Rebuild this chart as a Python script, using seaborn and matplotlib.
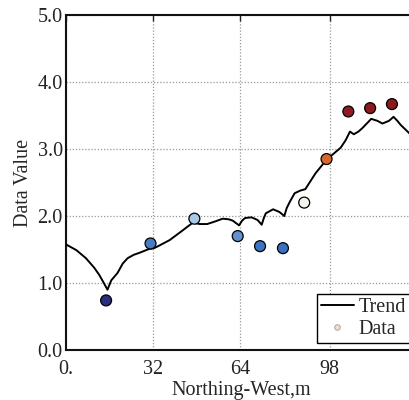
import matplotlib
matplotlib.use("Agg")
import matplotlib.pyplot as plt
import seaborn as sns
import numpy as np
import pandas as pd
from matplotlib.colors import LinearSegmentedColormap, Normalize
from matplotlib.lines import Line2D

# ---- data ----
data_x = [14.9, 31.2, 47.3, 63.2, 71.4, 79.8, 87.6, 95.8, 103.8, 111.8, 119.8]
data_y = [0.74, 1.59, 1.96, 1.70, 1.55, 1.52, 2.20, 2.85, 3.56, 3.61, 3.67]

trend_x = [0, 4, 7.5, 10.5, 12.4, 14.2, 15.4, 16.8, 19.1, 21, 22.8, 25, 27.1, 30.8, 32.5, 34,
           38.2, 42.5, 46.7, 49.3, 52, 55, 57.7, 60, 61.4, 63.7, 64.8, 65.9, 68.3, 70.5, 72,
           72.8, 73.5, 76.2, 78.5, 80.3, 81.2, 82.3, 84.1, 86.2, 88, 91.8, 95.8, 101, 102.8,
           104.4, 105.8, 107.5, 108.9, 110.8, 112.2, 114.5, 116.3, 118.7, 120.4, 121.8, 123, 126.3, 129]
trend_y = [1.58, 1.49, 1.37, 1.23, 1.12, 0.99, 0.90, 1.04, 1.15, 1.29, 1.37, 1.42, 1.45, 1.51, 1.52, 1.55,
           1.64, 1.77, 1.90, 1.88, 1.88, 1.92, 1.96, 1.95, 1.93, 1.86, 1.93, 1.97, 1.98, 1.94, 1.87,
           1.97, 2.04, 2.10, 2.06, 2.00, 2.12, 2.21, 2.34, 2.38, 2.40, 2.64, 2.84, 3.02, 3.13,
           3.26, 3.22, 3.26, 3.31, 3.39, 3.45, 3.42, 3.38, 3.42, 3.48, 3.42, 3.36, 3.23, 3.15]

x_ticks = [0, 32, 64, 96.9]
x_tick_labels = ["0.", "32", "64", "98"]
y_ticks = [0.0, 1.0, 2.0, 3.0, 4.0, 5.0]

df_pts = pd.DataFrame({"x": data_x, "y": data_y})
df_trend = pd.DataFrame({"x": trend_x, "y": trend_y})

# ---- style ----
sns.set_style("white")
plt.rcParams["font.family"] = ["Liberation Serif", "DejaVu Serif"]
plt.rcParams["mathtext.fontset"] = "stix"

fig = plt.figure(figsize=(4.09, 4.00), dpi=100)
ax = fig.add_axes([65.5 / 409, 50 / 400, (417 - 65.5) / 409, 335 / 400])

lo, hi = 0.74, 3.60
nodes = [(0.0, "#2b2e7a"), ((1.55 - lo) / (hi - lo), "#3b74c0"),
         ((1.96 - lo) / (hi - lo), "#a7c9e8"), ((2.20 - lo) / (hi - lo), "#f6f3ec"),
         ((2.85 - lo) / (hi - lo), "#d6682b"), (1.0, "#8a1a1d")]
cmap = LinearSegmentedColormap.from_list("div", nodes)

sns.lineplot(data=df_trend, x="x", y="y", ax=ax, color="black", linewidth=1.4,
             sort=False, estimator=None, legend=False, zorder=3)
sns.scatterplot(data=df_pts, x="x", y="y", hue="y", palette=cmap,
                hue_norm=Normalize(lo, hi), ax=ax, s=62, edgecolor="black",
                linewidth=0.9, legend=False, zorder=4)

ax.set_xlim(0, 129)
ax.set_ylim(0, 5)
ax.set_xticks(x_ticks)
ax.set_xticklabels(x_tick_labels)
ax.set_yticks(y_ticks)
ax.set_yticklabels([f"{v:.1f}" for v in y_ticks])
ax.tick_params(labelsize=14.5, direction="in", length=4, width=1, top=True,
               colors="#222222")
ax.tick_params(axis="x", pad=7)
ax.tick_params(axis="y", pad=2)
ax.grid(True, linestyle=(0, (1, 1.5)), color="#999999", linewidth=0.9)
ax.set_axisbelow(True)
for side in ["left", "bottom", "top"]:
    ax.spines[side].set_color("#111111")
    ax.spines[side].set_linewidth(1.5)
ax.spines["right"].set_visible(False)

ax.set_xlabel("Northing-West,m", fontsize=14.5, labelpad=2)
ax.set_ylabel("Data Value", fontsize=14.5, labelpad=3)

handles = [Line2D([0], [0], color="black", linewidth=1.4),
           Line2D([0], [0], marker="o", linestyle="none", markersize=4,
                  markerfacecolor="#f3ddd0", markeredgecolor="#999999",
                  markeredgewidth=0.6)]
leg = ax.legend(handles, ["Trend", "Data"], loc="lower right", fontsize=14.5,
                frameon=True, fancybox=False, edgecolor="black", framealpha=1,
                borderaxespad=0.35, handlelength=1.6, handletextpad=0.25,
                borderpad=0.2, labelspacing=0.15)
leg.get_frame().set_linewidth(1.0)

fig.savefig("out.png", dpi=100)
